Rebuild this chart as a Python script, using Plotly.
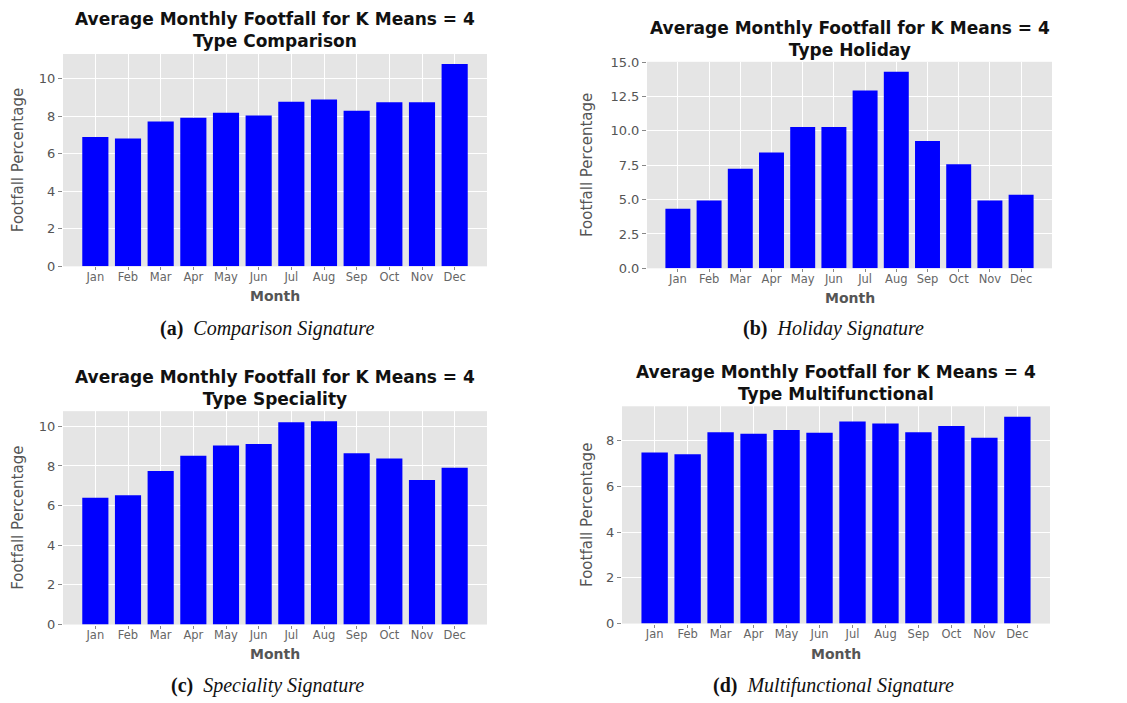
import plotly.graph_objects as go

months = ["Jan", "Feb", "Mar", "Apr", "May", "Jun", "Jul", "Aug", "Sep", "Oct", "Nov", "Dec"]
comparison = [6.90, 6.82, 7.72, 7.92, 8.18, 8.04, 8.77, 8.89, 8.29, 8.75, 8.75, 10.78]
holiday = [4.34, 4.94, 7.24, 8.43, 10.28, 10.28, 12.94, 14.31, 9.26, 7.57, 4.94, 5.36]
speciality = [6.40, 6.52, 7.75, 8.52, 9.03, 9.11, 10.21, 10.25, 8.64, 8.37, 7.29, 7.91]
multifunctional = [7.49, 7.41, 8.38, 8.31, 8.48, 8.35, 8.85, 8.76, 8.38, 8.65, 8.14, 9.06]

types = ["Comparison", "Holiday", "Speciality", "Multifunctional"]
letters = ["a", "b", "c", "d"]
series = [comparison, holiday, speciality, multifunctional]
y_ticks = [[0, 2, 4, 6, 8, 10], [0, 2.5, 5, 7.5, 10, 12.5, 15], [0, 2, 4, 6, 8, 10], [0, 2, 4, 6, 8]]
y_fmt = [".0f", ".1f", ".0f", ".0f"]

W, H = 1127, 703
# pixel layout (left, right, top, bottom) of each plot area
boxes = [(63, 487, 48, 265), (647, 1052, 56, 267), (63, 487, 413, 631), (622, 1050, 408, 630)]
title_y = [24, 33, 389, 384]
ylabel_x = [18, 587, 18, 587]
month_y = [295, 297, 661, 661]
caption_y = [328, 328, 693, 693]

def px(x):
    return x / W

def py(y):
    return 1 - y / H

fig = go.Figure()
annotations = []
layout = {}
for i in range(4):
    l, r, t, b = boxes[i]
    xa = "x" if i == 0 else f"x{i+1}"
    ya = "y" if i == 0 else f"y{i+1}"
    fig.add_trace(go.Bar(x=months, y=series[i], xaxis=xa, yaxis=ya,
                         marker=dict(color="#0000ff", line=dict(width=0)),
                         width=0.8, showlegend=False))
    key = "" if i == 0 else str(i + 1)
    layout["xaxis" + key] = dict(
        domain=[px(l), px(r)], anchor=ya, type="category", range=[-0.99, 11.99],
        showgrid=True, gridcolor="white", gridwidth=1, zeroline=False,
        ticks="outside", ticklen=3, tickcolor="#888", tickwidth=1,
        ticklabelstandoff=-3,
        tickfont=dict(family="DejaVu Sans", size=11.5, color="#666"),
        showline=False, fixedrange=True)
    layout["yaxis" + key] = dict(
        domain=[py(b), py(t)], anchor=xa, range=[0, max(series[i]) * 1.05],
        tickvals=y_ticks[i], tickformat=y_fmt[i],
        showgrid=True, gridcolor="white", gridwidth=1, zeroline=False,
        ticks="outside", ticklen=4, tickcolor="#888", tickwidth=1,
        tickfont=dict(family="DejaVu Sans", size=13, color="#555"),
        showline=False, fixedrange=True)
    cx = (l + r) / 2
    annotations.append(dict(text=f"<b>Average Monthly Footfall for K Means = 4<br>Type {types[i]}</b>",
                            x=px(cx), y=py(title_y[i]), xref="paper", yref="paper",
                            xanchor="center", yanchor="middle", align="center", showarrow=False,
                            font=dict(family="DejaVu Sans", size=17, color="#111")))
    annotations.append(dict(text="<b>Month</b>", x=px(cx), y=py(month_y[i]),
                            xref="paper", yref="paper", xanchor="center", yanchor="middle",
                            showarrow=False,
                            font=dict(family="DejaVu Sans", size=14, color="#555")))
    annotations.append(dict(text="Footfall Percentage", x=px(ylabel_x[i]), y=py((t + b) / 2),
                            xref="paper", yref="paper", xanchor="center", yanchor="middle",
                            textangle=-90, showarrow=False,
                            font=dict(family="DejaVu Sans", size=15, color="#555")))
    annotations.append(dict(text=f"<b>({letters[i]})</b>  <i>{types[i]} Signature</i>",
                            x=px(267 if i % 2 == 0 else 833), y=py(caption_y[i]),
                            xref="paper", yref="paper", xanchor="center", yanchor="middle",
                            showarrow=False,
                            font=dict(family="Liberation Serif", size=20, color="#111")))

fig.update_layout(width=W, height=H, margin=dict(l=0, r=0, t=0, b=0),
                  paper_bgcolor="white", plot_bgcolor="#e5e5e5",
                  annotations=annotations, bargap=0.2, **layout)
fig.write_html("out.html")
